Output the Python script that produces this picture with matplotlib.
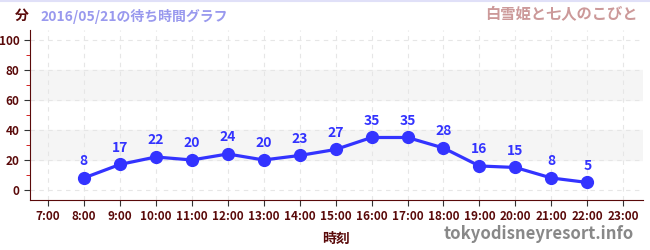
import matplotlib
matplotlib.use("Agg")
import matplotlib.pyplot as plt
from matplotlib.ticker import MultipleLocator

plt.rcParams['font.family'] = ['Noto Sans CJK JP', 'DejaVu Sans']

# 時刻ごとの待ち時間
hours = [8, 9, 10, 11, 12, 13, 14, 15, 16, 17, 18, 19, 20, 21, 22]
waits = [8, 17, 22, 20, 24, 20, 23, 27, 35, 35, 28, 16, 15, 8, 5]
tick_hours = list(range(7, 24))
tick_labels = [f"{h}:00" for h in tick_hours]

DARK = '#5a0a0a'
BLUE = '#3333ff'

fig = plt.figure(figsize=(6.5, 2.5), dpi=100)
ax = fig.add_axes([30 / 650, 50 / 250, 613 / 650, 170 / 250])

ax.set_xlim(6.5, 23.55)
ax.set_ylim(-6.7, 106.7)

# 背景の帯
for lo, hi in [(20, 40), (60, 80)]:
    ax.axhspan(lo, hi, color='#f5f5f5', zorder=0)

ax.set_xticks(tick_hours)
ax.set_xticklabels(tick_labels)
ax.set_yticks([0, 20, 40, 60, 80, 100])
ax.yaxis.set_minor_locator(MultipleLocator(10))
ax.grid(True, which='major', color='#e6e6e6', linestyle=(0, (4, 4)), linewidth=0.8, zorder=0)

ax.plot(hours, waits, color=BLUE, linewidth=2.3, marker='o', markersize=8.5, zorder=3)
for h, w in zip(hours, waits):
    ax.annotate(str(w), (h, w), xytext=(0, 7), textcoords='offset points',
                ha='center', va='bottom', color=BLUE, fontsize=10, fontweight='bold')

for side in ['top', 'right']:
    ax.spines[side].set_visible(False)
ax.spines['left'].set_color(DARK)
ax.spines['bottom'].set_color(DARK)
ax.tick_params(axis='both', labelsize=8.5, labelcolor=DARK, length=4, color='#333333')
ax.tick_params(axis='y', which='minor', length=3, color='#cc0000')
for lab in ax.get_xticklabels() + ax.get_yticklabels():
    lab.set_fontweight('bold')

ax.set_xlabel('時刻', fontsize=10, color=DARK, fontweight='bold', labelpad=6)

fig.text(22 / 650, 1 - 16 / 250, '分', fontsize=10, color=DARK, fontweight='bold', ha='center', va='center')
fig.text(40 / 650, 1 - 16 / 250, '2016/05/21の待ち時間グラフ', fontsize=10, color='#9999ee',
         fontweight='bold', ha='left', va='center')
fig.text(638 / 650, 1 - 14 / 250, '白雪姫と七人のこびと', fontsize=11, color='#cc9999',
         fontweight='bold', ha='right', va='center')
fig.text(634 / 650, 1 - 234 / 250, 'tokyodisneyresort.info', fontsize=12, color='#888888',
         fontweight='bold', ha='right', va='center')
fig.add_artist(plt.Line2D([0, 1], [0.998, 0.998], color='#e0e0f8', linewidth=1.5))

fig.savefig('out.png', dpi=100)
